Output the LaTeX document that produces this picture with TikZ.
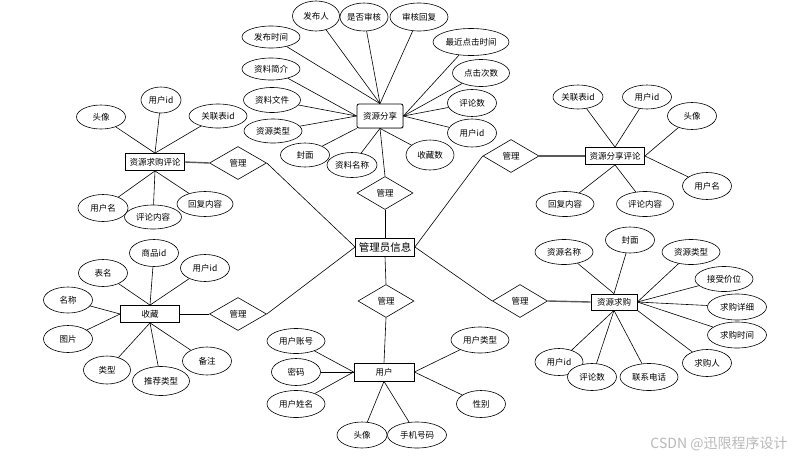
\documentclass[tikz,border=0pt]{standalone}
\usepackage{fontspec}
\setmainfont{Noto Sans CJK SC}
\usetikzlibrary{shapes.geometric,shadows}
\tikzset{
  attr/.style={ellipse,draw,fill=white,line width=0.6pt,inner sep=0pt,minimum width=49pt,minimum height=26pt,font=\fontsize{8.5}{10}\selectfont},
  ent/.style={rectangle,draw,fill=white,line width=0.8pt,inner sep=0pt,minimum height=17pt,font=\fontsize{8.5}{10}\selectfont,drop shadow={shadow xshift=0.8pt,shadow yshift=-0.8pt,fill=gray!60}},
  rel/.style={diamond,draw,fill=white,line width=0.6pt,inner sep=0pt,minimum width=56pt,minimum height=33pt,font=\fontsize{8.5}{10}\selectfont},
  lnk/.style={line width=0.6pt},
  thk/.style={line width=1.4pt,gray!70!black},
}
\begin{document}
\begin{tikzpicture}[x=1pt,y=-1pt]
\useasboundingbox[fill=white] (0,0) rectangle (806,461);
% central entity and relationships
\node[ent,minimum width=59pt,minimum height=18pt,font=\fontsize{10.5}{12}\selectfont] (mgr) at (385,247) {管理员信息};
\node[rel] (d1) at (385,193) {管理};
\node[rel] (d2) at (386,301) {管理};
\node[rel,minimum width=55pt] (d3) at (520,301) {管理};
\node[rel] (d4) at (511,156) {管理};
\node[rel,minimum width=57pt] (d5) at (238,163) {管理};
\node[rel,minimum width=57pt] (d6) at (238,314) {管理};
% resource sharing
\node[ent,rounded corners=2pt,minimum width=46pt,minimum height=24pt] (share) at (380,116) {资源分享};
\node[attr,minimum width=47pt,minimum height=30pt] (fbr) at (316,16) {发布人};
\node[attr,minimum width=47pt,minimum height=28pt] (sfsh) at (364,17) {是否审核};
\node[attr,minimum width=58pt,minimum height=28pt] (shhf) at (419,17) {审核回复};
\node[attr,minimum width=58pt,minimum height=22pt] (fbsj) at (271,37) {发布时间};
\node[attr,minimum width=76pt,minimum height=27pt] (zjdj) at (471,42) {最近点击时间};
\node[attr,minimum width=57pt,minimum height=27pt] (djcs) at (481,73) {点击次数};
\node[attr,minimum width=58pt,minimum height=22pt] (zljj) at (271,69) {资料简介};
\node[attr,minimum height=27pt] (pls) at (472,103) {评论数};
\node[attr,minimum width=57pt,minimum height=25pt] (zlwj) at (272,100) {资料文件};
\node[attr,minimum height=28pt] (yhid) at (472,133) {用户id};
\node[attr,minimum width=58pt,minimum height=24pt] (zylx) at (273,131) {资源类型};
\node[attr,minimum height=24pt] (fm) at (305,155) {封面};
\node[attr,minimum width=50pt,minimum height=25pt] (zlmc) at (352,165) {资料名称};
\node[attr,minimum width=48pt,minimum height=30pt] (scs) at (430,155) {收藏数};
% resource request comments
\node[ent,minimum width=59pt] (rc) at (155,162) {资源求购评论};
\node[attr,minimum height=24pt] (tx1) at (101,117) {头像};
\node[attr,minimum width=40pt] (uid1) at (161,100) {用户id};
\node[attr,minimum width=58pt,minimum height=24pt] (gl1) at (218,116) {关联表id};
\node[attr,minimum width=50pt,minimum height=27pt] (un1) at (103,208) {用户名};
\node[attr,minimum width=56pt,minimum height=25pt] (hf1) at (205,204) {回复内容};
\node[attr,minimum width=57pt,minimum height=24pt] (pl1) at (153,217) {评论内容};
% resource sharing comments
\node[ent,minimum width=59pt] (sc) at (615,156) {资源分享评论};
\node[attr,minimum width=50pt,minimum height=24pt] (gl2) at (578,97) {关联表id};
\node[attr,minimum height=24pt] (uid2) at (647,97) {用户id};
\node[attr,minimum height=27pt] (tx2) at (692,116) {头像};
\node[attr,minimum height=27pt] (un2) at (707,186) {用户名};
\node[attr,minimum width=58pt,minimum height=25pt] (hf2) at (565,204) {回复内容};
\node[attr,minimum width=57pt,minimum height=25pt] (pl2) at (645,204) {评论内容};
% favourites
\node[ent,minimum width=59pt] (fav) at (150,314) {收藏};
\node[attr,minimum height=27pt] (spid) at (154,253) {商品id};
\node[attr,minimum height=27pt] (bm) at (103,273) {表名};
\node[attr,minimum height=27pt] (uid3) at (205,268) {用户id};
\node[attr] (mc) at (68,300) {名称};
\node[attr,minimum height=27pt] (tp) at (68,339) {图片};
\node[attr,minimum width=47pt,minimum height=28pt] (lx) at (107,370) {类型};
\node[attr,minimum width=57pt,minimum height=29pt] (tjlx) at (161,381) {推荐类型};
\node[attr,minimum height=28pt] (bz) at (207,361) {备注};
% user
\node[ent,minimum width=60pt,minimum height=18pt] (user) at (384,372) {用户};
\node[attr,minimum width=58pt,minimum height=25pt] (zh) at (296,341) {用户账号};
\node[attr,minimum height=27pt] (mm) at (296,372) {密码};
\node[attr,minimum width=58pt,minimum height=27pt] (xm) at (296,404) {用户姓名};
\node[attr,minimum width=50pt] (tx4) at (362,435) {头像};
\node[attr,minimum width=59pt] (sj) at (417,435) {手机号码};
\node[attr,minimum width=58pt] (ulx) at (480,340) {用户类型};
\node[attr,minimum height=27pt] (xb) at (481,404) {性别};
% resource request
\node[ent,minimum width=46pt,minimum height=16pt] (buy) at (614,302) {资源求购};
\node[attr,minimum width=58pt,minimum height=25pt] (zymc) at (564,252) {资源名称};
\node[attr] (fm2) at (630,240) {封面};
\node[attr,minimum width=58pt,minimum height=25pt] (zylx2) at (691,252) {资源类型};
\node[attr,minimum width=58pt,minimum height=25pt] (jsjw) at (724,279) {接受价位};
\node[attr,minimum width=59pt] (qgxx) at (737,307) {求购详细};
\node[attr,minimum width=59pt] (qgsj) at (737,335) {求购时间};
\node[attr,minimum height=27pt] (qgr) at (707,363) {求购人};
\node[attr,minimum width=48pt,minimum height=27pt] (uid5) at (559,362) {用户id};
\node[attr,minimum height=27pt] (pls2) at (592,377) {评论数};
\node[attr,minimum width=58pt,minimum height=27pt] (lxdh) at (649,377) {联系电话};
% watermark
\node[font=\fontsize{14}{16}\selectfont,text=gray!55] (wm) at (719,444) {CSDN @迅限程序设计};
% connectors: central
\draw[lnk] (share.south) -- (d1.north);
\draw[lnk] (d1.south) -- (mgr.north);
\draw[lnk] (d2.north) -- (mgr.south);
\draw[lnk] (d2.south) -- (user.north);
\draw[lnk] (d5.east) -- (mgr.west);
\draw[lnk] (d6.east) -- (mgr.west);
\draw[lnk] (d4.west) -- (mgr.east);
\draw[lnk] (d3.west) -- (mgr.east);
\draw[thk] (rc.east) -- (d5.west);
\draw[thk] (sc.west) -- (d4.east);
\draw[lnk] (fav.east) -- (d6.west);
\draw[thk] (buy.west) -- (d3.east);
% share attributes
\foreach \a in {fbr,sfsh,shhf,fbsj} \draw[lnk] (\a) -- (share.north);
\foreach \a in {zjdj,djcs,pls,yhid} \draw[lnk] (\a) -- (share.east);
\foreach \a in {zljj,zlwj,zylx} \draw[lnk] (\a) -- (share.west);
\draw[lnk] (fm) -- (share.south west);
\foreach \a in {zlmc,scs} \draw[lnk] (\a) -- (share.south);
% rc attributes
\foreach \a in {tx1,uid1,gl1} \draw[lnk] (\a) -- (rc.north);
\foreach \a in {un1,pl1,hf1} \draw[lnk] (\a) -- (rc.south);
% sc attributes
\foreach \a in {gl2,uid2} \draw[lnk] (\a) -- (sc.north);
\foreach \a in {tx2,un2} \draw[lnk] (\a) -- (sc.east);
\foreach \a in {hf2,pl2} \draw[lnk] (\a) -- (sc.south);
% fav attributes
\foreach \a in {spid,bm,uid3} \draw[lnk] (\a) -- (fav.north);
\foreach \a in {mc,tp} \draw[lnk] (\a) -- (fav.west);
\foreach \a in {lx,tjlx,bz} \draw[lnk] (\a) -- (fav.south);
% user attributes
\foreach \a in {zh,mm,xm} \draw[lnk] (\a) -- (user.west);
\foreach \a in {ulx,xb} \draw[lnk] (\a) -- (user.east);
\foreach \a in {tx4,sj} \draw[lnk] (\a) -- (user.south);
% buy attributes
\foreach \a in {zymc,fm2} \draw[lnk] (\a) -- (buy.north);
\foreach \a in {zylx2,jsjw,qgxx,qgsj} \draw[lnk] (\a) -- (buy.east);
\draw[lnk] (qgr) -- (buy.south east);
\foreach \a in {uid5,pls2,lxdh} \draw[lnk] (\a) -- (buy.south);
\end{tikzpicture}
\end{document}
